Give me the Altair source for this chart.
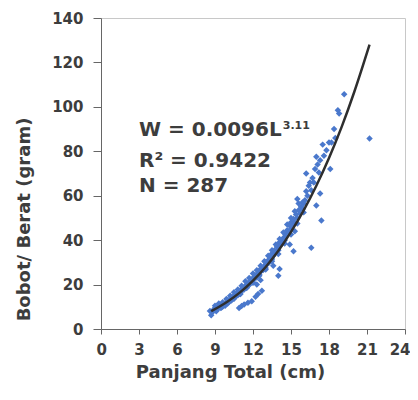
import altair as alt
import pandas as pd

L = [8.6, 8.7, 8.8, 8.9, 9.0, 9.1, 9.2, 9.3, 9.4, 9.5, 9.6, 9.7, 9.8, 9.9, 10.0, 10.0,
     10.1, 10.2, 10.3, 10.4, 10.5, 10.5, 10.6, 10.7, 10.8, 10.9, 11.0, 11.0,
     10.9, 11.1, 11.3, 11.6, 11.9, 12.2, 12.4, 12.7,
     11.1, 11.2, 11.3, 11.4, 11.5, 11.6, 11.7, 11.8, 11.9, 12.0, 12.0,
     12.1, 12.2, 12.3, 12.4, 12.5, 12.5, 12.6, 12.7, 12.8, 12.9, 13.0, 13.0, 12.3, 12.6,
     13.1, 13.2, 13.3, 13.4, 13.5, 13.5, 13.6, 13.7, 13.8, 13.9, 14.0, 14.0, 14.1, 14.0, 13.6,
     14.1, 14.2, 14.3, 14.4, 14.5, 14.5, 14.6, 14.7, 14.8, 14.9, 15.0, 15.0, 14.9, 15.2,
     15.1, 15.2, 15.3, 15.4, 15.5, 15.6, 15.7, 15.8, 15.9, 16.0, 16.0, 16.2, 15.3, 15.5, 15.9,
     16.1, 16.2, 16.3, 16.4, 16.5, 16.6, 16.7, 16.8, 16.9, 17.0, 17.0, 16.6, 17.3, 17.4,
     17.1, 17.2, 17.3, 17.5, 17.6, 17.8, 18.1, 18.0,
     18.2, 18.5, 18.4, 18.8, 18.7, 19.2, 21.2,
     9.0, 9.3, 9.6, 9.9, 10.2, 10.5, 10.8, 11.1, 11.4, 11.7, 12.0, 12.3, 12.6, 12.9,
     13.2, 13.5, 13.8, 14.1, 14.4, 14.7, 15.0, 15.3, 15.6,
     9.5, 10.0, 10.5, 11.0, 11.5, 12.0, 12.5, 13.0, 13.5, 14.0, 14.5, 15.0, 15.5]
W = [8.1, 6.2, 7.5, 8.8, 9.5, 8.0, 9.0, 10.2, 9.5, 10.8, 10.0, 11.2, 10.5, 12.0, 11.5, 13.0,
     12.2, 13.5, 12.8, 14.2, 13.6, 15.0, 14.5, 16.0, 15.2, 16.8, 15.8, 17.5,
     9.5, 10.4, 11.0, 11.8, 12.5, 14.5, 15.8, 17.2,
     17.0, 18.5, 17.8, 19.5, 18.8, 20.5, 19.8, 21.5, 22.2, 21.0, 23.0,
     22.5, 24.0, 23.2, 25.2, 24.5, 26.5, 25.8, 27.5, 26.5, 28.5, 27.5, 30.0, 20.0, 22.0,
     29.0, 31.0, 30.0, 32.5, 31.5, 34.0, 33.0, 35.5, 34.5, 37.0, 35.5, 38.5, 27.0, 24.0, 28.5,
     37.5, 39.5, 38.5, 41.0, 40.0, 43.0, 42.0, 44.5, 43.5, 46.5, 45.0, 48.0, 38.0, 35.0,
     47.0, 49.5, 48.0, 51.5, 50.0, 53.5, 52.0, 55.0, 54.0, 56.5, 52.5, 70.0, 44.0, 58.5, 57.0,
     58.0, 62.0, 60.0, 64.5, 66.0, 62.5, 68.0, 66.0, 72.0, 77.5, 55.6, 36.6, 61.0, 48.8,
     74.0, 70.5, 76.0, 83.0, 78.0, 80.5, 72.0, 84.0,
     84.0, 86.0, 90.0, 97.0, 98.5, 105.7, 85.8,
     10.5, 11.5, 12.0, 13.5, 15.0, 16.5, 17.8, 19.5, 21.5, 23.0, 25.0, 26.5, 28.5, 30.5,
     33.0, 35.5, 38.0, 40.5, 43.5, 47.0, 50.0, 53.0, 56.5,
     9.6, 11.8, 13.8, 15.8, 18.5, 20.8, 24.0, 26.8, 30.5, 33.8, 38.5, 42.5, 47.5]

# Fitted curve W = 0.0096 L^3.11, read at a few lengths
curve_L = [8.7, 10, 11, 12, 13, 14, 15, 16, 17, 18, 19, 20, 21.2]
curve_W = [8.0, 12.4, 16.6, 21.8, 27.9, 35.2, 43.7, 53.4, 64.5, 77.0, 91.0, 106.8, 128.0]

# Annotation lines (anchored in data units)
ann_text = ["W = 0.0096L", "R\u00b2 = 0.9422", "N = 287"]
ann_L = [3.0, 3.0, 3.0]
ann_W = [89.5, 75.8, 64.4]
sup_text = ["3.11"]
sup_L = [14.35]
sup_W = [91.5]

x_ticks = [0, 3, 6, 9, 12, 15, 18, 21, 24]
y_ticks = [0, 20, 40, 60, 80, 100, 120, 140]

FONT = "DejaVu Sans"
TXT = "#3d3d3d"

pts = pd.DataFrame({"L": L, "W": W})
crv = pd.DataFrame({"L": curve_L, "W": curve_W})
ann = pd.DataFrame({"L": ann_L, "W": ann_W, "t": ann_text})
sup = pd.DataFrame({"L": sup_L, "W": sup_W, "t": sup_text})

xs = alt.Scale(domain=[0, 24], nice=False)
ys = alt.Scale(domain=[0, 140], nice=False)

xaxis = alt.Axis(values=x_ticks, grid=False, title="Panjang Total (cm)",
                 labelFlush=True, labelFlushOffset=5,
                 labelFont=FONT, labelFontSize=15, labelFontWeight="bold", labelColor=TXT,
                 labelPadding=8, tickSize=5, tickColor="#666", domainColor="#666",
                 titleFont=FONT, titleFontSize=18, titleFontWeight="bold", titleColor=TXT,
                 titleX=129, titleY=48, titleBaseline="alphabetic", titleAlign="center")
yaxis = alt.Axis(values=y_ticks, grid=False, title="Bobot/ Berat (gram)",
                 labelFlush=False,
                 labelFont=FONT, labelFontSize=15, labelFontWeight="bold", labelColor=TXT,
                 labelPadding=10, tickSize=8, tickColor="#666", domainColor="#666",
                 titleFont=FONT, titleFontSize=18, titleFontWeight="bold", titleColor=TXT,
                 titleX=-72, titleY=201, titleBaseline="alphabetic", titleAlign="center",
                 titleAngle=270)

scatter = alt.Chart(pts).mark_point(shape="diamond", filled=True, size=42,
                                    color="#4a78cc", opacity=1).encode(
    x=alt.X("L:Q", scale=xs, axis=xaxis),
    y=alt.Y("W:Q", scale=ys, axis=yaxis),
)

line = alt.Chart(crv).mark_line(color="#2e2e2e", strokeWidth=2.5,
                                interpolate="monotone").encode(
    x=alt.X("L:Q", scale=xs, axis=xaxis), y=alt.Y("W:Q", scale=ys, axis=yaxis))

text = alt.Chart(ann).mark_text(align="left", baseline="middle", font=FONT,
                                fontSize=20, fontWeight="bold", color=TXT).encode(
    x=alt.X("L:Q", scale=xs, axis=xaxis), y=alt.Y("W:Q", scale=ys, axis=yaxis), text="t:N")

suptext = alt.Chart(sup).mark_text(align="left", baseline="middle", font=FONT,
                                   fontSize=11, fontWeight="bold", color=TXT).encode(
    x=alt.X("L:Q", scale=xs, axis=xaxis), y=alt.Y("W:Q", scale=ys, axis=yaxis), text="t:N")

chart = alt.layer(scatter, line, text, suptext).properties(
    width=304, height=311,
    autosize=alt.AutoSizeParams(type="none"),
    padding={"left": 93, "top": 10, "right": 5, "bottom": 55},
    background="white",
).configure_view(stroke="#c8c8c8", strokeWidth=1).configure_axis(
    labelOverlap=False, labelBound=False)

chart.save("out.html", embed_options={"renderer": "svg", "actions": False})
